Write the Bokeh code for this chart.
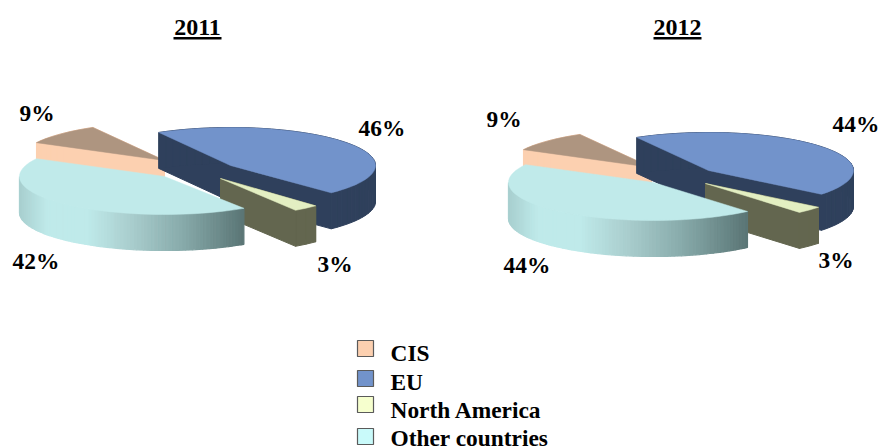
import numpy as np
from bokeh.plotting import figure
from bokeh.models import Range1d
from bokeh.core.properties import value
from bokeh.embed import file_html
from bokeh.resources import INLINE

# ---- data ----
categories = ["CIS", "EU", "North America", "Other countries"]
values_2011 = [9, 46, 3, 42]
values_2012 = [9, 44, 3, 44]
titles = ["2011", "2012"]

# ---- style ----
top_colors = ["#AE9580", "#7293CB", "#E3EFC2", "#C0EAEA"]
side_colors = ["#FCD0B0", "#2F405C", "#63664F", None]
legend_colors = ["#FCD0B0", "#7293CB", "#F6FFCE", "#C9FAFA"]
FONT = "Liberation Serif"
TXT_SHIFT = 0.33   # the svg text sits this fraction of its size below the given y
TXT_SIZE = 23.4

# ---- layout (page pixels) ----
W, H = 879, 446
B, T = 38, 36
START = 152
apex_2011 = [(164, 160), (230, 165), (220, 178), (164, 176)]
radii_2011 = [145, 145, 137, 145]
apex_2012 = [(651, 167), (708, 170), (705, 183), (653, 182)]
radii_2012 = [145, 145, 145, 145]
label_pos_2011 = [(19, 120), (358, 135), (317, 271), (12, 268)]
label_pos_2012 = [(486, 126), (832, 131), (818, 267), (503, 272)]
title_pos = [(197, 35), (677, 35)]
grad_stops = [(0.0, "#A9D0D0"), (0.12, "#BFEAEA"), (0.3, "#BFEAEA"),
              (0.5, "#A9CDCD"), (0.73, "#87AAAA"), (1.0, "#5A7575")]

p = figure(width=W, height=H, output_backend="svg", toolbar_location=None,
           x_range=Range1d(0, W), y_range=Range1d(H, 0),
           min_border=0, outline_line_color=None, background_fill_color="white")
p.axis.visible = False
p.grid.visible = False


def hex2rgb(c):
    return np.array([int(c[i:i + 2], 16) for i in (1, 3, 5)], float)


def grad(f):
    for (f0, c0), (f1, c1) in zip(grad_stops, grad_stops[1:]):
        if f <= f1:
            t = (f - f0) / (f1 - f0)
            r = hex2rgb(c0) * (1 - t) + hex2rgb(c1) * t
            return "#%02x%02x%02x" % tuple(int(v) for v in r)
    return grad_stops[-1][1]


def draw_pie(vals, apexes, radii):
    angle = START
    for i, v in enumerate(vals):
        sweep = v / sum(vals) * 360
        th = np.radians(np.linspace(angle, angle - sweep, max(int(sweep / 3), 3)))
        start = angle
        angle -= sweep
        cx, cy = apexes[i]
        A = radii[i]
        ax = cx + A * np.cos(th)
        ay = cy - B * np.sin(th)
        ox = np.r_[cx, ax]
        oy = np.r_[cy, ay]
        if side_colors[i]:
            xs, ys = [], []
            for k in range(len(ox)):
                n = (k + 1) % len(ox)
                xs.append([ox[k], ox[n], ox[n], ox[k]])
                ys.append([oy[k], oy[n], oy[n] + T, oy[k] + T])
            p.patches(xs, ys, fill_color=side_colors[i], line_color=side_colors[i], line_width=1)
        else:
            # shaded rim: strips with a left-to-right gradient
            tt = np.radians(np.linspace(start, -180, 90))
            rx = cx + A * np.cos(tt)
            ry = cy - B * np.sin(tt)
            xmin, xmax = rx.min(), rx.max()
            xs, ys, cs = [], [], []
            for k in range(len(rx) - 1):
                xs.append([rx[k], rx[k + 1], rx[k + 1], rx[k]])
                ys.append([ry[k], ry[k + 1], ry[k + 1] + T, ry[k] + T])
                cs.append(grad((0.5 * (rx[k] + rx[k + 1]) - xmin) / (xmax - xmin)))
            p.patches(xs, ys, fill_color=cs, line_color=cs, line_width=1.2)
        p.patch(ox, oy, fill_color=top_colors[i], line_color=top_colors[i], line_width=0.5)


draw_pie(values_2011, apex_2011, radii_2011)
draw_pie(values_2012, apex_2012, radii_2012)


def draw_labels(vals, pos):
    p.text([q[0] for q in pos], [q[1] - TXT_SHIFT * TXT_SIZE for q in pos], text=[f"{v}%" for v in vals],
           text_font=value(FONT), text_font_style="bold", text_font_size=f"{TXT_SIZE}px",
           text_color="black", text_baseline="alphabetic", text_align="left")


draw_labels(values_2011, label_pos_2011)
draw_labels(values_2012, label_pos_2012)

# titles
p.text([q[0] for q in title_pos], [q[1] - TXT_SHIFT * 24 for q in title_pos], text=titles,
       text_font=value(FONT), text_font_style="bold", text_font_size="24px",
       text_color="black", text_baseline="alphabetic", text_align="center")
p.segment([q[0] - 24 for q in title_pos], [q[1] + 2.8 for q in title_pos],
          [q[0] + 24 for q in title_pos], [q[1] + 2.8 for q in title_pos],
          line_color="black", line_width=2.5)

# legend
sw_x0, sw_x1 = 357, 373
sw_tops = [340, 370, 396, 428]
txt_base = [360, 389, 417, 445]
p.quad(left=[sw_x0] * 4, right=[sw_x1] * 4, top=sw_tops, bottom=[t + 16 for t in sw_tops],
       fill_color=legend_colors, line_color="#5A5A5A", line_width=1.2)
p.text([390] * 4, [b - TXT_SHIFT * TXT_SIZE for b in txt_base], text=categories, text_font=value(FONT),
       text_font_style="bold", text_font_size=f"{TXT_SIZE}px", text_color="black",
       text_baseline="alphabetic", text_align="left")

open("out.html", "w").write(file_html(p, INLINE))
